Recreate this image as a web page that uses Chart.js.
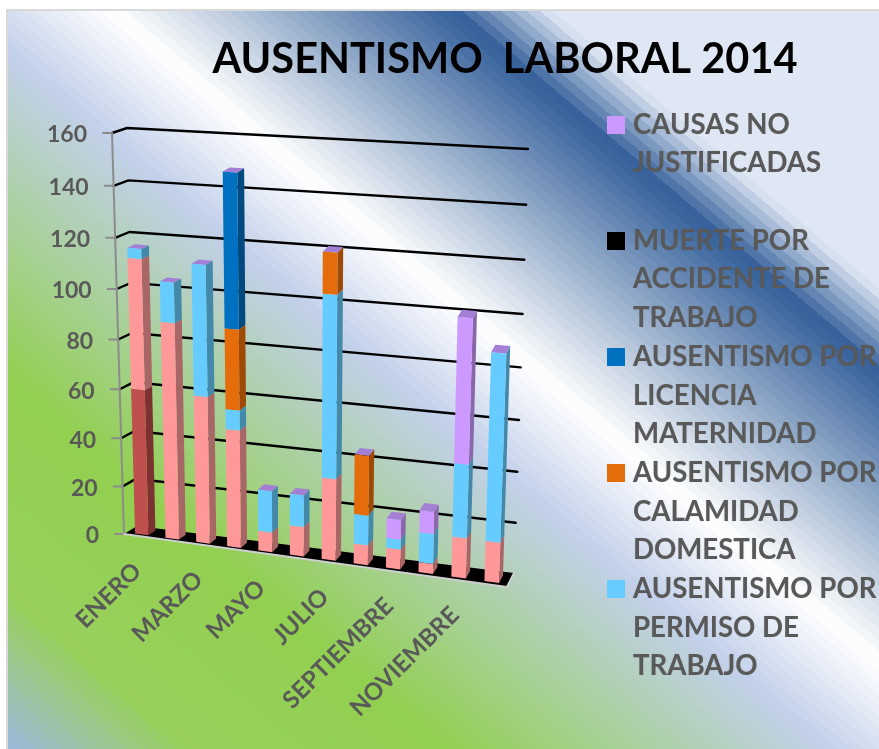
<!DOCTYPE html>
<html><head><meta charset="utf-8">
<style>html,body{margin:0;padding:0;background:#fff}canvas{display:block}</style>
<script src="https://cdn.jsdelivr.net/npm/chart.js@4"></script>
</head><body><canvas id="c" width="879" height="749"></canvas>
<script>
const titleText = "AUSENTISMO  LABORAL 2014";
const categories = ["ENERO","FEBRERO","MARZO","ABRIL","MAYO","JUNIO","JULIO","AGOSTO","SEPTIEMBRE","OCTUBRE","NOVIEMBRE","DICIEMBRE"];
const yTickValues = [0,20,40,60,80,100,120,140,160];
const serieRoja   = [60,0,0,0,0,0,0,0,0,0,0,0];
const serieRosa   = [52,88,60,48,8,12,33,8,8,4,16,16];
const permiso     = [4,16,52,8,17,13,72,12,4,12,29,73];
const calamidad   = [0,0,0,32,0,0,16,24,0,0,0,0];
const muerte      = [0,0,0,0,0,0,0,0,0,0,0,0];
const maternidad  = [0,0,0,60,0,0,0,0,0,0,0,0];
const causas      = [0,0,0,0,0,0,0,0,8,9,56,0];
const legendLines = [
  {color:"#CC99FF", line:0, text:["CAUSAS NO","JUSTIFICADAS"]},
  {color:"#000000", line:3, text:["MUERTE POR","ACCIDENTE DE","TRABAJO"]},
  {color:"#0070C0", line:6, text:["AUSENTISMO POR","LICENCIA","MATERNIDAD"]},
  {color:"#E46C0A", line:9, text:["AUSENTISMO POR","CALAMIDAD","DOMESTICA"]},
  {color:"#66CCFF", line:12,text:["AUSENTISMO POR","PERMISO DE","TRABAJO"]}
];
const sideColors = {"#C0504D":"#7C3230","#FF9999":"#A96666","#66CCFF":"#4488AA","#E46C0A":"#9C4A06","#000000":"#000000","#0070C0":"#004A80","#CC99FF":"#8A66AA"};
const topColor = "#A37FD6";

/* perspective frame of the plot box: front and back planes */
const FR = {bl:[124,534],br:[507,587],tl:[112,133],tr:[521,163]};
const BK = {bl:[137,526],br:[514,573],tl:[127,128],tr:[528,149]};
const BAR_D0 = 0.2, BAR_D1 = 0.75;
let area = null;
function lerp(a,b,t){return a+(b-a)*t;}
function onPlane(Q,u,t){
  const bx=lerp(Q.bl[0],Q.br[0],u), by=lerp(Q.bl[1],Q.br[1],u);
  const tx=lerp(Q.tl[0],Q.tr[0],u), ty=lerp(Q.tl[1],Q.tr[1],u);
  return [lerp(bx,tx,t),lerp(by,ty,t)];
}
function project(px,py,d){
  let u=(px-area.left)/(area.right-area.left);
  let t=(area.bottom-py)/(area.bottom-area.top);
  u=u-0.05*u*(1-u);
  t=t-0.06*t*(1-t);
  const f=onPlane(FR,u,t), b=onPlane(BK,u,t);
  return [lerp(f[0],b[0],d),lerp(f[1],b[1],d)];
}
function poly(ctx,pts,fill){
  ctx.beginPath();
  pts.forEach((p,i)=>i?ctx.lineTo(p[0],p[1]):ctx.moveTo(p[0],p[1]));
  ctx.closePath();ctx.fillStyle=fill;ctx.fill();
}
function hexRgb(h){return [1,3,5].map(i=>parseInt(h.substr(i,2),16));}
const bgStops=[[-470,"#E0E7F4"],[-458,"#E0E7F4"],[-375,"#34609A"],[-85,"#FFFFFF"],[45,"#C2D0EA"],[372,"#92D050"],[590,"#98D05C"],[745,"#9DB8E0"],[760,"#9DB8E0"]];
function bgColor(c){
  for(let i=1;i<bgStops.length;i++){
    if(c<=bgStops[i][0]){
      const a=bgStops[i-1],b=bgStops[i],t=Math.max(0,(c-a[0])/(b[0]-a[0]));
      const A=hexRgb(a[1]),B=hexRgb(b[1]);
      return "rgb("+A.map((v,k)=>Math.round(lerp(v,B[k],t))).join(",")+")";
    }
  }
  return bgStops[bgStops.length-1][1];
}
const perspective = {
  id:"perspective",
  beforeDraw(chart){
    const ctx=chart.ctx; area=chart.chartArea;
    ctx.save();
    ctx.fillStyle="#fff";ctx.fillRect(0,0,879,749);
    const c0=-470,c1=760,k=0.85,n=1+k*k;
    const g=ctx.createLinearGradient(-k*c0/n,c0/n,-k*c1/n,c1/n);
    const step=11;
    for(let c=c0;c<c1;c+=step){
      const col=bgColor(c+step/2);
      g.addColorStop((c-c0)/(c1-c0),col);
      g.addColorStop(Math.min(1,(c+step-c0)/(c1-c0)),col);
    }
    ctx.fillStyle="#D9D9D9";ctx.fillRect(6,9,873,740);
    ctx.fillStyle=g;ctx.fillRect(8,11,871,738);
    ctx.restore();
  },
  beforeDatasetsDraw(chart){
    const ctx=chart.ctx,y=chart.scales.y,a=chart.chartArea;
    ctx.save();
    poly(ctx,[project(a.left,a.bottom,0),project(a.left,a.bottom,1),project(a.right,a.bottom,1),project(a.right,a.bottom,0)],"#000");
    ctx.lineCap="round";
    y.ticks.forEach(t=>{
      const py=y.getPixelForValue(t.value);
      const p0=project(a.left,py,0),p1=project(a.left,py,1),p2=project(a.right,py,1);
      if(t.value!==0){
        ctx.strokeStyle="#000";ctx.lineWidth=2.4;
        ctx.beginPath();ctx.moveTo(p0[0],p0[1]);ctx.lineTo(p1[0],p1[1]);ctx.lineTo(p2[0],p2[1]);ctx.stroke();
      }
      ctx.strokeStyle="#8C8C8C";ctx.lineWidth=2;
      ctx.beginPath();ctx.moveTo(p0[0]-9,p0[1]);ctx.lineTo(p0[0],p0[1]);ctx.stroke();
      ctx.fillStyle="#595959";ctx.font="bold 23px Lato";ctx.textAlign="right";ctx.textBaseline="middle";
      ctx.fillText(String(t.value),p0[0]-25,p0[1]+2);
    });
    const top=project(a.left,a.top,0),bot=project(a.left,a.bottom,0);
    ctx.strokeStyle="#8C8C8C";ctx.lineWidth=2;
    ctx.beginPath();ctx.moveTo(top[0],top[1]);ctx.lineTo(bot[0],bot[1]);ctx.stroke();
    const fr=project(a.right,a.bottom,0),br=project(a.right,a.bottom,1);
    ctx.strokeStyle="#CFCFCF";
    ctx.beginPath();ctx.moveTo(bot[0],bot[1]);ctx.lineTo(fr[0],fr[1]);ctx.lineTo(br[0],br[1]);ctx.stroke();
    ctx.restore();
  },
  beforeDatasetDraw(chart,args){
    const ctx=chart.ctx,ds=chart.data.datasets[args.index],meta=args.meta;
    const isTop=args.index===chart.data.datasets.length-1;
    ctx.save();
    meta.data.forEach(el=>{
      const L=el.x-el.width/2,R=el.x+el.width/2,T=el.y,B=el.base;
      const col=ds.backgroundColor;
      if(B-T>0.01){
        poly(ctx,[project(R,B,BAR_D0),project(R,B,BAR_D1),project(R,T,BAR_D1),project(R,T,BAR_D0)],sideColors[col]);
        poly(ctx,[project(L,B,BAR_D0),project(R,B,BAR_D0),project(R,T,BAR_D0),project(L,T,BAR_D0)],col);
      }
      if(isTop){
        poly(ctx,[project(L,T,BAR_D0),project(R,T,BAR_D0),project(R,T,BAR_D1),project(L,T,BAR_D1)],topColor);
      }
    });
    ctx.restore();
    return false;
  },
  afterDraw(chart){
    const ctx=chart.ctx,x=chart.scales.x,a=chart.chartArea;
    ctx.save();
    ctx.fillStyle="#000";ctx.font="bold 41.5px Lato";ctx.textAlign="center";ctx.textBaseline="alphabetic";
    ctx.fillText(titleText,505,73);
    ctx.fillStyle="#595959";ctx.font="bold 24px Lato";
    categories.forEach((name,i)=>{
      if(i%2) return;
      const p=project(x.getPixelForValue(i),a.bottom,0);
      ctx.save();
      ctx.translate(p[0]-2,p[1]+31);
      ctx.rotate(-Math.PI/4);
      ctx.textAlign="right";ctx.textBaseline="middle";
      ctx.fillText(name,0,0);
      ctx.restore();
    });
    ctx.font="bold 27.6px Lato";ctx.textAlign="left";ctx.textBaseline="alphabetic";
    legendLines.forEach(item=>{
      const y0=133.6+38.7*item.line;
      ctx.fillStyle=item.color;ctx.fillRect(607,Math.round(y0)-18,18,18);
      ctx.fillStyle="#595959";
      ctx.shadowColor="rgba(70,70,70,0.25)";ctx.shadowBlur=1;ctx.shadowOffsetX=0;ctx.shadowOffsetY=0;
      item.text.forEach((s,j)=>ctx.fillText(s,633,y0+38.7*j));
      ctx.shadowColor="transparent";ctx.shadowBlur=0;
    });
    ctx.restore();
  }
};
const ds=(label,data,color)=>({label,data,backgroundColor:color,borderWidth:0,stack:"s"});
new Chart(document.getElementById("c"),{
  type:"bar",
  data:{labels:categories,datasets:[
    ds("Serie roja",serieRoja,"#C0504D"),
    ds("Serie rosa",serieRosa,"#FF9999"),
    ds("AUSENTISMO POR PERMISO DE TRABAJO",permiso,"#66CCFF"),
    ds("AUSENTISMO POR CALAMIDAD DOMESTICA",calamidad,"#E46C0A"),
    ds("MUERTE POR ACCIDENTE DE TRABAJO",muerte,"#000000"),
    ds("AUSENTISMO POR LICENCIA MATERNIDAD",maternidad,"#0070C0"),
    ds("CAUSAS NO JUSTIFICADAS",causas,"#CC99FF")
  ]},
  options:{
    responsive:false,animation:false,
    layout:{padding:{left:124,right:372,top:133,bottom:215}},
    datasets:{bar:{categoryPercentage:1,barPercentage:0.44}},
    plugins:{legend:{display:false},title:{display:false},tooltip:{enabled:false}},
    scales:{
      x:{stacked:true,ticks:{display:false},grid:{display:false},border:{display:false}},
      y:{stacked:true,min:0,max:160,ticks:{display:false},grid:{display:false},border:{display:false},
         afterBuildTicks:s=>{s.ticks=yTickValues.map(v=>({value:v}));}}
    }
  },
  plugins:[perspective]
});
</script></body></html>
